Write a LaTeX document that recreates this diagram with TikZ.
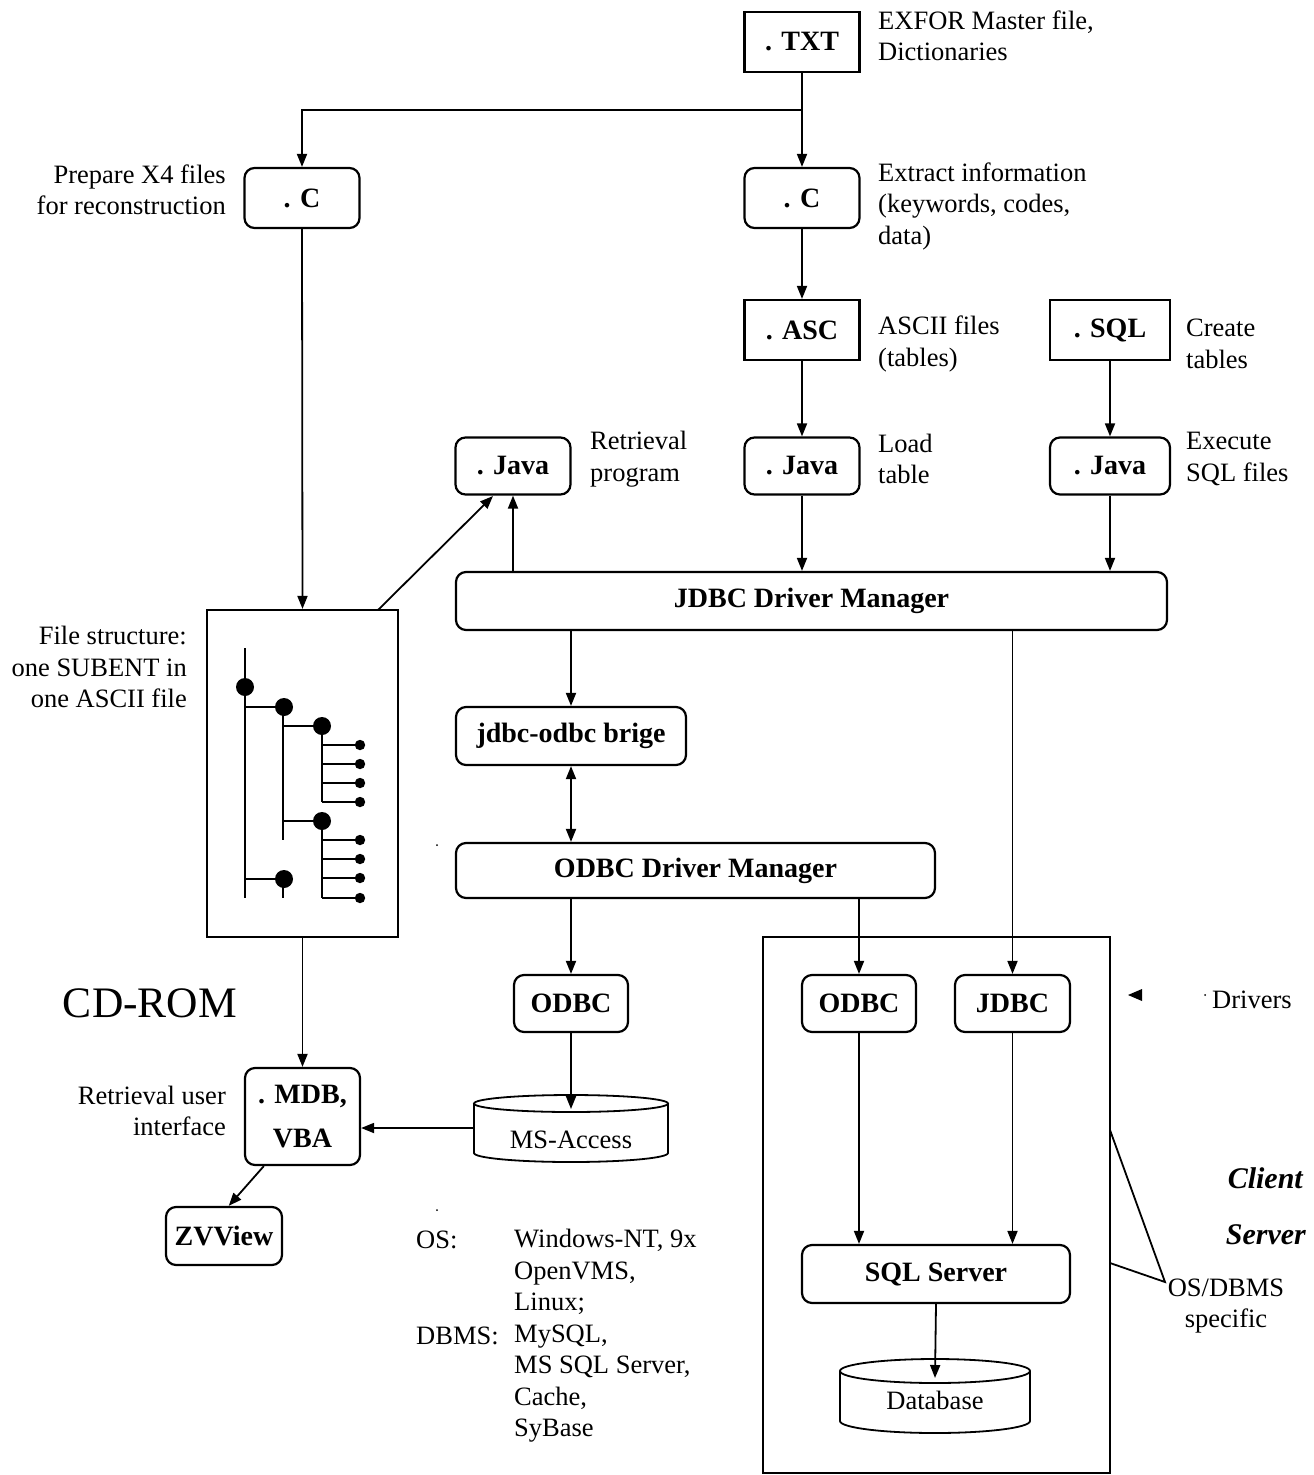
\documentclass[tikz,border=0pt]{standalone}
\usepackage{fontspec}
\setmainfont{Liberation Serif}
\usetikzlibrary{arrows.meta,calc}
\begin{document}
\begin{tikzpicture}[x=1pt,y=-1pt,
  every node/.style={font=\fontsize{26.5}{31.5}\selectfont},
  sqbox/.style={draw, line width=2.2pt, font=\fontsize{28}{32}\selectfont\bfseries, minimum width=115pt, minimum height=60pt, inner sep=0pt, align=center},
  rbox/.style={sqbox, rounded corners=10pt},
  lbl/.style={inner sep=0pt},
  arr/.style={line width=1.8pt, -{Triangle[length=13pt,width=10pt]}},
  ln/.style={line width=1.8pt},
  tree/.style={line width=2.2pt}]
\useasboundingbox (0,0) rectangle (1314,1475);

% ---------- boxes ----------
\node[sqbox] (txt) at (802,42) {. TXT};
\node[rbox] (cL) at (302,198) {. C};
\node[rbox] (cR) at (802,198) {. C};
\node[sqbox] (asc) at (802,330) {. ASC};
\node[sqbox, minimum width=120pt] (sql) at (1110,330) {. SQL};
\node[rbox, minimum height=57pt] (javaL) at (513,466) {. Java};
\node[rbox, minimum height=57pt] (javaM) at (802,466) {. Java};
\node[rbox, minimum height=57pt, minimum width=120pt] (javaR) at (1110,466) {. Java};
\node[rbox, minimum width=711pt, minimum height=58pt] (jdbcdm) at (811.5,601) {JDBC Driver Manager};
\node[rbox, minimum width=230pt, minimum height=58pt] (bridge) at (571,736) {jdbc-odbc brige};
\node[rbox, minimum width=479pt, minimum height=55pt] (odbcdm) at (695.5,870.5) {ODBC Driver Manager};
\node[rbox, minimum width=114pt, minimum height=57pt] (odbcL) at (571,1003.5) {ODBC};
\node[rbox, minimum width=114pt, minimum height=57pt] (odbcR) at (859,1003.5) {ODBC};
\node[rbox, minimum width=115pt, minimum height=57pt] (jdbc) at (1012.5,1003.5) {JDBC};
\node[rbox, minimum width=268pt, minimum height=58pt] (sqlsrv) at (936,1274) {SQL Server};
\node[rbox, minimum width=115pt, minimum height=97pt] (mdb) at (302.5,1116.5) {. MDB,\\[12pt]VBA};
\node[rbox, minimum width=116pt, minimum height=58pt] (zv) at (224,1236) {ZVView};
\node[draw, line width=2.2pt, minimum width=191pt, minimum height=327pt, inner sep=0pt] (filebox) at (302.5,773.5) {};
\node[draw, line width=2.2pt, minimum width=347pt, minimum height=536pt, inner sep=0pt] (serverbox) at (936.5,1205) {};

% ---------- cylinders ----------
\draw[line width=1.8pt] (474,1103.5) -- (474,1153)
  .. controls (474,1158) and (517.5,1162) .. (571,1162)
  .. controls (624.5,1162) and (668,1158) .. (668,1153) -- (668,1103.5);
\draw[line width=1.8pt] (571,1103.5) ellipse [x radius=97pt, y radius=8.5pt];
\node[lbl] (msa) at (571,1140) {MS-Access};
\coordinate (msatop) at (571,1109);
\coordinate (msaleft) at (474,1128);

\draw[line width=1.8pt] (840,1371) -- (840,1421)
  .. controls (840,1427.6) and (882.5,1433) .. (935,1433)
  .. controls (987.5,1433) and (1030,1427.6) .. (1030,1421) -- (1030,1371);
\draw[line width=1.8pt] (935,1371) ellipse [x radius=95pt, y radius=12pt];
\node[lbl] (db) at (935,1400) {Database};
\coordinate (dbtop) at (935,1378);

% ---------- tree inside file box ----------
\draw[tree] (245,648) -- (245,898);
\draw[tree] (245,707) -- (283,707);
\draw[tree] (283,707) -- (283,840);
\draw[tree] (283,726) -- (322,726);
\draw[tree] (322,726) -- (322,802);
\foreach \yy in {745,764,783,802} { \draw[tree] (322,\yy) -- (360,\yy); \fill (360,\yy) circle (5.2); }
\draw[tree] (283,821) -- (322,821);
\draw[tree] (322,821) -- (322,898);
\foreach \yy in {840,859,878,898} { \draw[tree] (322,\yy) -- (360,\yy); \fill (360,\yy) circle (5.2); }
\draw[tree] (245,879) -- (283,879) -- (283,898);
\fill (245,687) circle (9);
\fill (284,707) circle (9);
\fill (322,726) circle (9);
\fill (322,821) circle (9);
\fill (284,879) circle (9);

% ---------- connectors ----------
\coordinate (split) at (802,110);
\draw[ln] (txt.south) -- (split);
\draw[arr] (split) -| (cL.north);
\draw[arr] (split) -- (cR.north);
\draw[arr] (cR.south) -- (asc.north);
\draw[arr] (asc.south) -- (javaM.north);
\draw[arr] (sql.south) -- (javaR.north);
\draw[arr] (javaM.south) -- (javaM.south |- jdbcdm.north);
\draw[arr] (javaR.south) -- (javaR.south |- jdbcdm.north);
\draw[arr] (javaL.south |- jdbcdm.north) -- (javaL.south);
\coordinate (fs) at (378,610);
\coordinate (jl) at (493,496);
\draw[arr] (fs) -- (jl);
\draw[arr] (cL.south) -- (filebox.north);
\draw[arr] (filebox.south) -- (mdb.north);
\draw[arr] (bridge.north |- jdbcdm.south) -- (bridge.north);
\draw[line width=1.8pt, {Triangle[length=13pt,width=10pt]}-{Triangle[length=13pt,width=10pt]}] (bridge.south) -- (bridge.south |- odbcdm.north);
\draw[arr] (odbcL.north |- odbcdm.south) -- (odbcL.north);
\draw[arr] (odbcR.north |- odbcdm.south) -- (odbcR.north);
\draw[arr] (jdbc.north |- jdbcdm.south) -- (jdbc.north);
\draw[arr] (odbcL.south) -- (msatop);
\draw[arr] (msaleft) -- (mdb.east |- msaleft);
\draw[arr] ($(mdb.south west)!0.17!(mdb.south east)$) -- ($(zv.north west)!0.54!(zv.north east)$);
\draw[arr] (odbcR.south) -- (odbcR.south |- sqlsrv.north);
\draw[arr] (jdbc.south) -- (jdbc.south |- sqlsrv.north);
\draw[arr] (sqlsrv.south) -- (dbtop);

% OS/DBMS specific lines
\coordinate (s1) at (1110,1130);
\coordinate (s2) at (1110,1263);
\coordinate (sp) at (1165,1282);
\draw[ln] (s1) -- (sp) -- (s2);

% Drivers marker
\fill (1128,995) -- (1142,989) -- (1142,1001) -- cycle;
\fill (1205,995) circle (1);
\fill (437,845) circle (1);
\fill (437,1210) circle (1);

% ---------- labels ----------
\node[lbl, anchor=west, align=left] at (878,36) {EXFOR Master file,\\Dictionaries};
\node[lbl, anchor=east, align=right] at (226,190) {Prepare X4 files\\for reconstruction};
\node[lbl, anchor=west, align=left] at (878,206) {Extract information\\(keywords, codes,\\data)};
\node[lbl, anchor=west, align=left] at (878,344) {ASCII files\\(tables)};
\node[lbl, anchor=west, align=left] at (1186,344) {Create\\tables};
\node[lbl, anchor=west, align=left] at (590,459) {Retrieval\\program};
\node[lbl, anchor=west, align=left] at (878,459) {Load\\table};
\node[lbl, anchor=west, align=left] at (1186,459) {Execute\\SQL files};
\node[lbl, anchor=east, align=right] at (187,667) {File structure:\\one SUBENT in\\one ASCII file};
\node[lbl, anchor=east, align=right] at (226,1111) {Retrieval user\\interface};
\node[lbl, font=\fontsize{43.5}{50}\selectfont] at (150,1003) {CD-ROM};
\node[lbl, anchor=west] at (1212,1000) {Drivers};
\node[lbl, anchor=east, font=\fontsize{30}{34}\selectfont\bfseries\itshape] at (1303,1178) {Client};
\node[lbl, anchor=east, font=\fontsize{30}{34}\selectfont\bfseries\itshape] at (1306,1235) {Server};
\node[lbl, align=center] at (1226,1306) {OS/DBMS\\specific};
\node[lbl, anchor=west] at (416,1240) {OS:};
\node[lbl, anchor=west] at (416,1336) {DBMS:};
\node[lbl, anchor=west, align=left] at (514,1336) {Windows-NT, 9x\\OpenVMS,\\Linux;\\MySQL,\\MS SQL Server,\\Cache,\\SyBase};
\end{tikzpicture}
\end{document}
